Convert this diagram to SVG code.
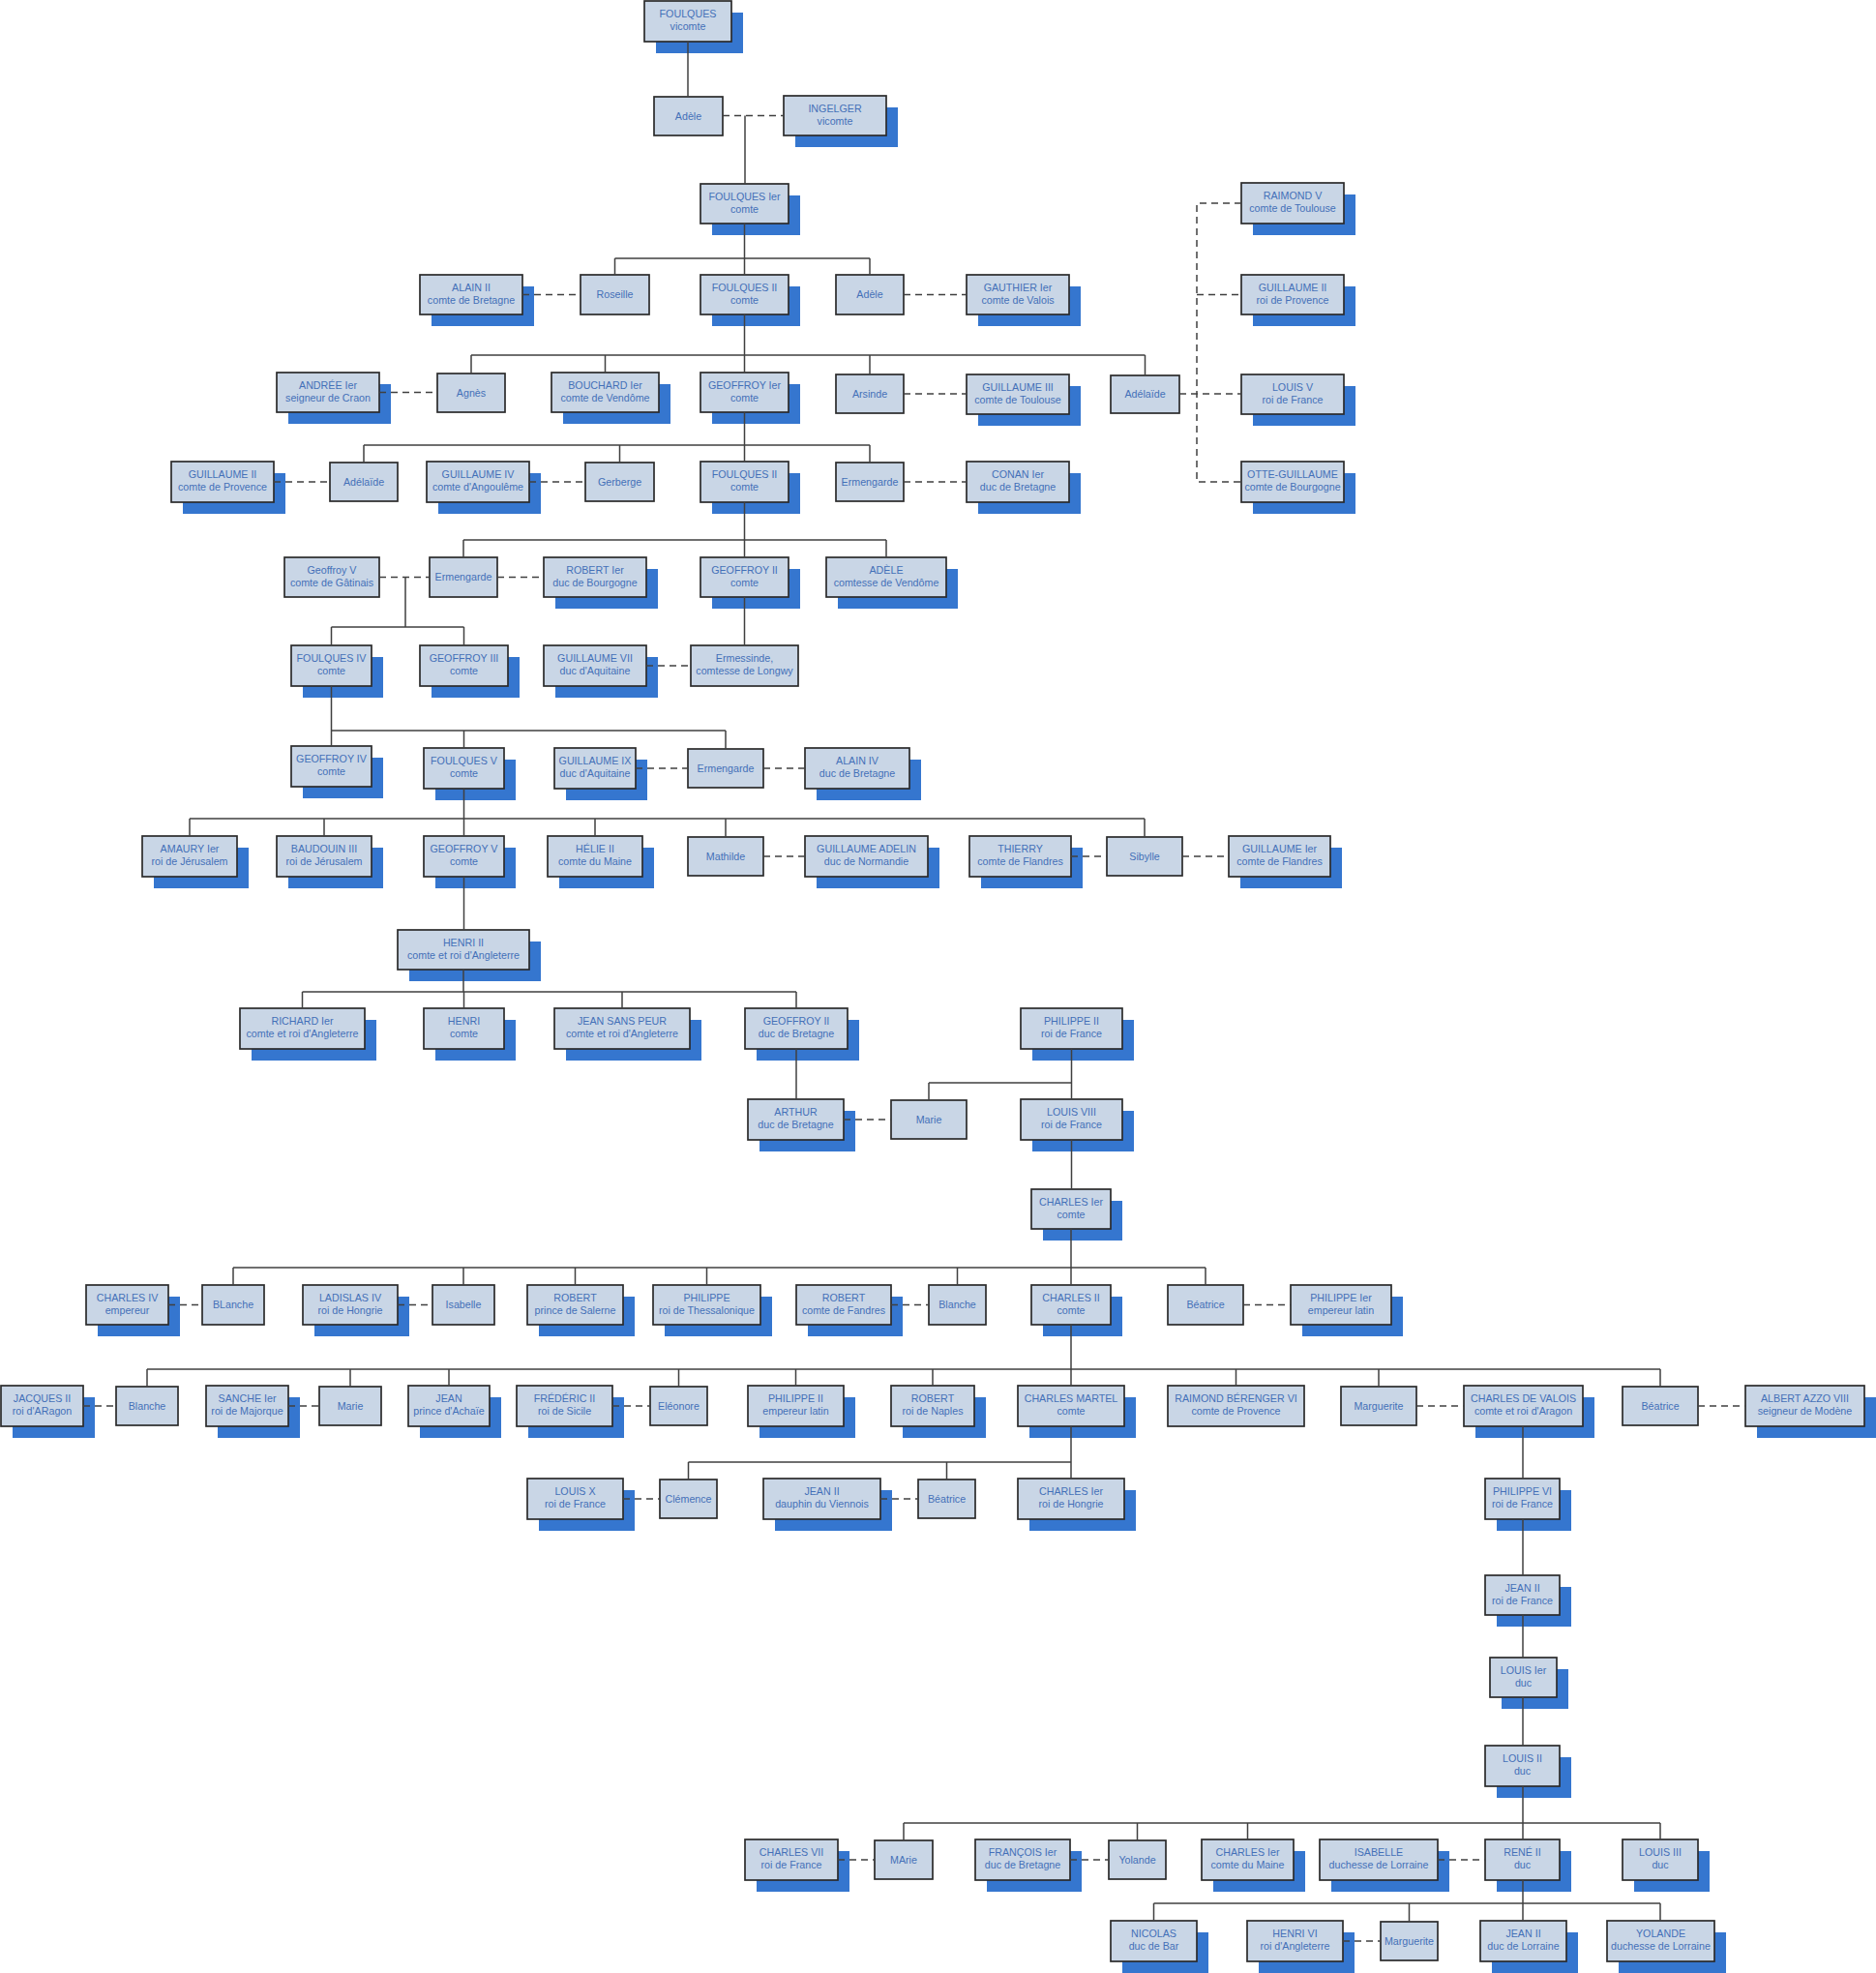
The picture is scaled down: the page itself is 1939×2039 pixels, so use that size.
<svg xmlns="http://www.w3.org/2000/svg" width="1939" height="2039" viewBox="0 0 1939 2039">
<style>
.s{fill:#3576CF}
.b{fill:#C9D6E6;stroke:#2B2B2B;stroke-width:1.7}
.t{font-family:"Liberation Sans",Arial,sans-serif;font-size:10.7px;fill:#4470B8;text-anchor:middle}
.c{fill:none;stroke:#404040;stroke-width:1.5}
.d{fill:none;stroke:#404040;stroke-width:1.5;stroke-dasharray:7,5}
</style>
<rect x="0" y="0" width="1939" height="2039" fill="#FFFFFF"/>
<g id="nodes">
<g id="n1"><rect class="s" x="678" y="13" width="90" height="42"/><rect class="b" x="666" y="1" width="90" height="42"/><text class="t" x="711" y="18">FOULQUES</text><text class="t" x="711" y="31">vicomte</text></g>
<g id="n2"><rect class="b" x="676" y="100" width="71" height="40"/><text class="t" x="711.5" y="123.5">Adèle</text></g>
<g id="n3"><rect class="s" x="822" y="111" width="106" height="41"/><rect class="b" x="810" y="99" width="106" height="41"/><text class="t" x="863" y="115.5">INGELGER</text><text class="t" x="863" y="128.5">vicomte</text></g>
<g id="n4"><rect class="s" x="736" y="202" width="91" height="41"/><rect class="b" x="724" y="190" width="91" height="41"/><text class="t" x="769.5" y="206.5">FOULQUES Ier</text><text class="t" x="769.5" y="219.5">comte</text></g>
<g id="n5"><rect class="s" x="446" y="296" width="106" height="41"/><rect class="b" x="434" y="284" width="106" height="41"/><text class="t" x="487" y="300.5">ALAIN II</text><text class="t" x="487" y="313.5">comte de Bretagne</text></g>
<g id="n6"><rect class="b" x="600" y="284" width="71" height="41"/><text class="t" x="635.5" y="308">Roseille</text></g>
<g id="n7"><rect class="s" x="736" y="296" width="91" height="41"/><rect class="b" x="724" y="284" width="91" height="41"/><text class="t" x="769.5" y="300.5">FOULQUES II</text><text class="t" x="769.5" y="313.5">comte</text></g>
<g id="n8"><rect class="b" x="864" y="284" width="70" height="41"/><text class="t" x="899" y="308">Adèle</text></g>
<g id="n9"><rect class="s" x="1011" y="296" width="106" height="41"/><rect class="b" x="999" y="284" width="106" height="41"/><text class="t" x="1052" y="300.5">GAUTHIER Ier</text><text class="t" x="1052" y="313.5">comte de Valois</text></g>
<g id="n10"><rect class="s" x="1295" y="201" width="106" height="42"/><rect class="b" x="1283" y="189" width="106" height="42"/><text class="t" x="1336" y="206">RAIMOND V</text><text class="t" x="1336" y="219">comte de Toulouse</text></g>
<g id="n11"><rect class="s" x="1295" y="296" width="106" height="41"/><rect class="b" x="1283" y="284" width="106" height="41"/><text class="t" x="1336" y="300.5">GUILLAUME II</text><text class="t" x="1336" y="313.5">roi de Provence</text></g>
<g id="n12"><rect class="s" x="298" y="397" width="106" height="41"/><rect class="b" x="286" y="385" width="106" height="41"/><text class="t" x="339" y="401.5">ANDRÉE Ier</text><text class="t" x="339" y="414.5">seigneur de Craon</text></g>
<g id="n13"><rect class="b" x="452" y="386" width="70" height="40"/><text class="t" x="487" y="409.5">Agnès</text></g>
<g id="n14"><rect class="s" x="582" y="397" width="111" height="41"/><rect class="b" x="570" y="385" width="111" height="41"/><text class="t" x="625.5" y="401.5">BOUCHARD Ier</text><text class="t" x="625.5" y="414.5">comte de Vendôme</text></g>
<g id="n15"><rect class="s" x="736" y="397" width="91" height="41"/><rect class="b" x="724" y="385" width="91" height="41"/><text class="t" x="769.5" y="401.5">GEOFFROY Ier</text><text class="t" x="769.5" y="414.5">comte</text></g>
<g id="n16"><rect class="b" x="864" y="387" width="70" height="40"/><text class="t" x="899" y="410.5">Arsinde</text></g>
<g id="n17"><rect class="s" x="1011" y="399" width="106" height="41"/><rect class="b" x="999" y="387" width="106" height="41"/><text class="t" x="1052" y="403.5">GUILLAUME III</text><text class="t" x="1052" y="416.5">comte de Toulouse</text></g>
<g id="n18"><rect class="b" x="1148" y="388" width="71" height="39"/><text class="t" x="1183.5" y="411">Adélaïde</text></g>
<g id="n19"><rect class="s" x="1295" y="399" width="106" height="41"/><rect class="b" x="1283" y="387" width="106" height="41"/><text class="t" x="1336" y="403.5">LOUIS V</text><text class="t" x="1336" y="416.5">roi de France</text></g>
<g id="n20"><rect class="s" x="189" y="489" width="106" height="42"/><rect class="b" x="177" y="477" width="106" height="42"/><text class="t" x="230" y="494">GUILLAUME II</text><text class="t" x="230" y="507">comte de Provence</text></g>
<g id="n21"><rect class="b" x="341" y="478" width="70" height="40"/><text class="t" x="376" y="501.5">Adélaïde</text></g>
<g id="n22"><rect class="s" x="453" y="489" width="106" height="42"/><rect class="b" x="441" y="477" width="106" height="42"/><text class="t" x="494" y="494">GUILLAUME IV</text><text class="t" x="494" y="507">comte d'Angoulême</text></g>
<g id="n23"><rect class="b" x="605" y="478" width="71" height="40"/><text class="t" x="640.5" y="501.5">Gerberge</text></g>
<g id="n24"><rect class="s" x="736" y="489" width="91" height="42"/><rect class="b" x="724" y="477" width="91" height="42"/><text class="t" x="769.5" y="494">FOULQUES II</text><text class="t" x="769.5" y="507">comte</text></g>
<g id="n25"><rect class="b" x="864" y="478" width="70" height="40"/><text class="t" x="899" y="501.5">Ermengarde</text></g>
<g id="n26"><rect class="s" x="1011" y="489" width="106" height="42"/><rect class="b" x="999" y="477" width="106" height="42"/><text class="t" x="1052" y="494">CONAN Ier</text><text class="t" x="1052" y="507">duc de Bretagne</text></g>
<g id="n27"><rect class="s" x="1295" y="489" width="106" height="42"/><rect class="b" x="1283" y="477" width="106" height="42"/><text class="t" x="1336" y="494">OTTE-GUILLAUME</text><text class="t" x="1336" y="507">comte de Bourgogne</text></g>
<g id="n28"><rect class="b" x="294" y="576" width="98" height="41"/><text class="t" x="343" y="592.5">Geoffroy V</text><text class="t" x="343" y="605.5">comte de Gâtinais</text></g>
<g id="n29"><rect class="b" x="444" y="576" width="70" height="41"/><text class="t" x="479" y="600">Ermengarde</text></g>
<g id="n30"><rect class="s" x="574" y="588" width="106" height="41"/><rect class="b" x="562" y="576" width="106" height="41"/><text class="t" x="615" y="592.5">ROBERT Ier</text><text class="t" x="615" y="605.5">duc de Bourgogne</text></g>
<g id="n31"><rect class="s" x="736" y="588" width="91" height="41"/><rect class="b" x="724" y="576" width="91" height="41"/><text class="t" x="769.5" y="592.5">GEOFFROY II</text><text class="t" x="769.5" y="605.5">comte</text></g>
<g id="n32"><rect class="s" x="866" y="588" width="124" height="41"/><rect class="b" x="854" y="576" width="124" height="41"/><text class="t" x="916" y="592.5">ADÈLE</text><text class="t" x="916" y="605.5">comtesse de Vendôme</text></g>
<g id="n33"><rect class="s" x="313" y="679" width="83" height="42"/><rect class="b" x="301" y="667" width="83" height="42"/><text class="t" x="342.5" y="684">FOULQUES IV</text><text class="t" x="342.5" y="697">comte</text></g>
<g id="n34"><rect class="s" x="446" y="679" width="91" height="42"/><rect class="b" x="434" y="667" width="91" height="42"/><text class="t" x="479.5" y="684">GEOFFROY III</text><text class="t" x="479.5" y="697">comte</text></g>
<g id="n35"><rect class="s" x="574" y="679" width="106" height="42"/><rect class="b" x="562" y="667" width="106" height="42"/><text class="t" x="615" y="684">GUILLAUME VII</text><text class="t" x="615" y="697">duc d'Aquitaine</text></g>
<g id="n36"><rect class="b" x="714" y="667" width="111" height="42"/><text class="t" x="769.5" y="684">Ermessinde,</text><text class="t" x="769.5" y="697">comtesse de Longwy</text></g>
<g id="n37"><rect class="s" x="313" y="783" width="83" height="42"/><rect class="b" x="301" y="771" width="83" height="42"/><text class="t" x="342.5" y="788">GEOFFROY IV</text><text class="t" x="342.5" y="801">comte</text></g>
<g id="n38"><rect class="s" x="450" y="785" width="83" height="42"/><rect class="b" x="438" y="773" width="83" height="42"/><text class="t" x="479.5" y="790">FOULQUES V</text><text class="t" x="479.5" y="803">comte</text></g>
<g id="n39"><rect class="s" x="585" y="785" width="84" height="42"/><rect class="b" x="573" y="773" width="84" height="42"/><text class="t" x="615" y="790">GUILLAUME IX</text><text class="t" x="615" y="803">duc d'Aquitaine</text></g>
<g id="n40"><rect class="b" x="711" y="774" width="78" height="40"/><text class="t" x="750" y="797.5">Ermengarde</text></g>
<g id="n41"><rect class="s" x="844" y="785" width="108" height="42"/><rect class="b" x="832" y="773" width="108" height="42"/><text class="t" x="886" y="790">ALAIN IV</text><text class="t" x="886" y="803">duc de Bretagne</text></g>
<g id="n42"><rect class="s" x="159" y="876" width="98" height="42"/><rect class="b" x="147" y="864" width="98" height="42"/><text class="t" x="196" y="881">AMAURY Ier</text><text class="t" x="196" y="894">roi de Jérusalem</text></g>
<g id="n43"><rect class="s" x="298" y="876" width="98" height="42"/><rect class="b" x="286" y="864" width="98" height="42"/><text class="t" x="335" y="881">BAUDOUIN III</text><text class="t" x="335" y="894">roi de Jérusalem</text></g>
<g id="n44"><rect class="s" x="450" y="876" width="83" height="42"/><rect class="b" x="438" y="864" width="83" height="42"/><text class="t" x="479.5" y="881">GEOFFROY V</text><text class="t" x="479.5" y="894">comte</text></g>
<g id="n45"><rect class="s" x="578" y="876" width="98" height="42"/><rect class="b" x="566" y="864" width="98" height="42"/><text class="t" x="615" y="881">HÉLIE II</text><text class="t" x="615" y="894">comte du Maine</text></g>
<g id="n46"><rect class="b" x="711" y="865" width="78" height="40"/><text class="t" x="750" y="888.5">Mathilde</text></g>
<g id="n47"><rect class="s" x="844" y="876" width="127" height="42"/><rect class="b" x="832" y="864" width="127" height="42"/><text class="t" x="895.5" y="881">GUILLAUME ADELIN</text><text class="t" x="895.5" y="894">duc de Normandie</text></g>
<g id="n48"><rect class="s" x="1014" y="876" width="105" height="42"/><rect class="b" x="1002" y="864" width="105" height="42"/><text class="t" x="1054.5" y="881">THIERRY</text><text class="t" x="1054.5" y="894">comte de Flandres</text></g>
<g id="n49"><rect class="b" x="1144" y="865" width="78" height="40"/><text class="t" x="1183" y="888.5">Sibylle</text></g>
<g id="n50"><rect class="s" x="1282" y="876" width="105" height="42"/><rect class="b" x="1270" y="864" width="105" height="42"/><text class="t" x="1322.5" y="881">GUILLAUME Ier</text><text class="t" x="1322.5" y="894">comte de Flandres</text></g>
<g id="n51"><rect class="s" x="423" y="973" width="136" height="41"/><rect class="b" x="411" y="961" width="136" height="41"/><text class="t" x="479" y="977.5">HENRI II</text><text class="t" x="479" y="990.5">comte et roi d'Angleterre</text></g>
<g id="n52"><rect class="s" x="260" y="1054" width="129" height="42"/><rect class="b" x="248" y="1042" width="129" height="42"/><text class="t" x="312.5" y="1059">RICHARD Ier</text><text class="t" x="312.5" y="1072">comte et roi d'Angleterre</text></g>
<g id="n53"><rect class="s" x="450" y="1054" width="83" height="42"/><rect class="b" x="438" y="1042" width="83" height="42"/><text class="t" x="479.5" y="1059">HENRI</text><text class="t" x="479.5" y="1072">comte</text></g>
<g id="n54"><rect class="s" x="585" y="1054" width="140" height="42"/><rect class="b" x="573" y="1042" width="140" height="42"/><text class="t" x="643" y="1059">JEAN SANS PEUR</text><text class="t" x="643" y="1072">comte et roi d'Angleterre</text></g>
<g id="n55"><rect class="s" x="782" y="1054" width="106" height="42"/><rect class="b" x="770" y="1042" width="106" height="42"/><text class="t" x="823" y="1059">GEOFFROY II</text><text class="t" x="823" y="1072">duc de Bretagne</text></g>
<g id="n56"><rect class="s" x="1067" y="1054" width="105" height="42"/><rect class="b" x="1055" y="1042" width="105" height="42"/><text class="t" x="1107.5" y="1059">PHILIPPE II</text><text class="t" x="1107.5" y="1072">roi de France</text></g>
<g id="n57"><rect class="s" x="785" y="1148" width="99" height="42"/><rect class="b" x="773" y="1136" width="99" height="42"/><text class="t" x="822.5" y="1153">ARTHUR</text><text class="t" x="822.5" y="1166">duc de Bretagne</text></g>
<g id="n58"><rect class="b" x="921" y="1137" width="78" height="40"/><text class="t" x="960" y="1160.5">Marie</text></g>
<g id="n59"><rect class="s" x="1067" y="1148" width="105" height="42"/><rect class="b" x="1055" y="1136" width="105" height="42"/><text class="t" x="1107.5" y="1153">LOUIS VIII</text><text class="t" x="1107.5" y="1166">roi de France</text></g>
<g id="n60"><rect class="s" x="1078" y="1241" width="82" height="41"/><rect class="b" x="1066" y="1229" width="82" height="41"/><text class="t" x="1107" y="1245.5">CHARLES Ier</text><text class="t" x="1107" y="1258.5">comte</text></g>
<g id="n61"><rect class="s" x="101" y="1340" width="85" height="41"/><rect class="b" x="89" y="1328" width="85" height="41"/><text class="t" x="131.5" y="1344.5">CHARLES IV</text><text class="t" x="131.5" y="1357.5">empereur</text></g>
<g id="n62"><rect class="b" x="209" y="1328" width="64" height="41"/><text class="t" x="241" y="1352">BLanche</text></g>
<g id="n63"><rect class="s" x="325" y="1340" width="98" height="41"/><rect class="b" x="313" y="1328" width="98" height="41"/><text class="t" x="362" y="1344.5">LADISLAS IV</text><text class="t" x="362" y="1357.5">roi de Hongrie</text></g>
<g id="n64"><rect class="b" x="447" y="1328" width="64" height="41"/><text class="t" x="479" y="1352">Isabelle</text></g>
<g id="n65"><rect class="s" x="557" y="1340" width="99" height="41"/><rect class="b" x="545" y="1328" width="99" height="41"/><text class="t" x="594.5" y="1344.5">ROBERT</text><text class="t" x="594.5" y="1357.5">prince de Salerne</text></g>
<g id="n66"><rect class="s" x="687" y="1340" width="111" height="41"/><rect class="b" x="675" y="1328" width="111" height="41"/><text class="t" x="730.5" y="1344.5">PHILIPPE</text><text class="t" x="730.5" y="1357.5">roi de Thessalonique</text></g>
<g id="n67"><rect class="s" x="835" y="1340" width="98" height="41"/><rect class="b" x="823" y="1328" width="98" height="41"/><text class="t" x="872" y="1344.5">ROBERT</text><text class="t" x="872" y="1357.5">comte de Fandres</text></g>
<g id="n68"><rect class="b" x="960" y="1328" width="59" height="41"/><text class="t" x="989.5" y="1352">Blanche</text></g>
<g id="n69"><rect class="s" x="1078" y="1340" width="82" height="41"/><rect class="b" x="1066" y="1328" width="82" height="41"/><text class="t" x="1107" y="1344.5">CHARLES II</text><text class="t" x="1107" y="1357.5">comte</text></g>
<g id="n70"><rect class="b" x="1207" y="1328" width="78" height="41"/><text class="t" x="1246" y="1352">Béatrice</text></g>
<g id="n71"><rect class="s" x="1346" y="1340" width="104" height="41"/><rect class="b" x="1334" y="1328" width="104" height="41"/><text class="t" x="1386" y="1344.5">PHILIPPE Ier</text><text class="t" x="1386" y="1357.5">empereur latin</text></g>
<g id="n72"><rect class="s" x="13" y="1444" width="85" height="42"/><rect class="b" x="1" y="1432" width="85" height="42"/><text class="t" x="43.5" y="1449">JACQUES II</text><text class="t" x="43.5" y="1462">roi d'ARagon</text></g>
<g id="n73"><rect class="b" x="120" y="1433" width="64" height="40"/><text class="t" x="152" y="1456.5">Blanche</text></g>
<g id="n74"><rect class="s" x="225" y="1444" width="85" height="42"/><rect class="b" x="213" y="1432" width="85" height="42"/><text class="t" x="255.5" y="1449">SANCHE Ier</text><text class="t" x="255.5" y="1462">roi de Majorque</text></g>
<g id="n75"><rect class="b" x="330" y="1433" width="64" height="40"/><text class="t" x="362" y="1456.5">Marie</text></g>
<g id="n76"><rect class="s" x="434" y="1444" width="84" height="42"/><rect class="b" x="422" y="1432" width="84" height="42"/><text class="t" x="464" y="1449">JEAN</text><text class="t" x="464" y="1462">prince d'Achaïe</text></g>
<g id="n77"><rect class="s" x="546" y="1444" width="99" height="42"/><rect class="b" x="534" y="1432" width="99" height="42"/><text class="t" x="583.5" y="1449">FRÉDÉRIC II</text><text class="t" x="583.5" y="1462">roi de Sicile</text></g>
<g id="n78"><rect class="b" x="672" y="1433" width="59" height="40"/><text class="t" x="701.5" y="1456.5">Eléonore</text></g>
<g id="n79"><rect class="s" x="785" y="1444" width="99" height="42"/><rect class="b" x="773" y="1432" width="99" height="42"/><text class="t" x="822.5" y="1449">PHILIPPE II</text><text class="t" x="822.5" y="1462">empereur latin</text></g>
<g id="n80"><rect class="s" x="933" y="1444" width="86" height="42"/><rect class="b" x="921" y="1432" width="86" height="42"/><text class="t" x="964" y="1449">ROBERT</text><text class="t" x="964" y="1462">roi de Naples</text></g>
<g id="n81"><rect class="s" x="1064" y="1444" width="110" height="42"/><rect class="b" x="1052" y="1432" width="110" height="42"/><text class="t" x="1107" y="1449">CHARLES MARTEL</text><text class="t" x="1107" y="1462">comte</text></g>
<g id="n82"><rect class="b" x="1207" y="1432" width="141" height="42"/><text class="t" x="1277.5" y="1449">RAIMOND BÉRENGER VI</text><text class="t" x="1277.5" y="1462">comte de Provence</text></g>
<g id="n83"><rect class="b" x="1386" y="1433" width="78" height="40"/><text class="t" x="1425" y="1456.5">Marguerite</text></g>
<g id="n84"><rect class="s" x="1525" y="1444" width="123" height="42"/><rect class="b" x="1513" y="1432" width="123" height="42"/><text class="t" x="1574.5" y="1449">CHARLES DE VALOIS</text><text class="t" x="1574.5" y="1462">comte et roi d'Aragon</text></g>
<g id="n85"><rect class="b" x="1677" y="1433" width="78" height="40"/><text class="t" x="1716" y="1456.5">Béatrice</text></g>
<g id="n86"><rect class="s" x="1816" y="1444" width="123" height="42"/><rect class="b" x="1804" y="1432" width="123" height="42"/><text class="t" x="1865.5" y="1449">ALBERT AZZO VIII</text><text class="t" x="1865.5" y="1462">seigneur de Modène</text></g>
<g id="n87"><rect class="s" x="557" y="1540" width="99" height="42"/><rect class="b" x="545" y="1528" width="99" height="42"/><text class="t" x="594.5" y="1545">LOUIS X</text><text class="t" x="594.5" y="1558">roi de France</text></g>
<g id="n88"><rect class="b" x="682" y="1529" width="59" height="40"/><text class="t" x="711.5" y="1552.5">Clémence</text></g>
<g id="n89"><rect class="s" x="801" y="1540" width="121" height="42"/><rect class="b" x="789" y="1528" width="121" height="42"/><text class="t" x="849.5" y="1545">JEAN II</text><text class="t" x="849.5" y="1558">dauphin du Viennois</text></g>
<g id="n90"><rect class="b" x="949" y="1529" width="59" height="40"/><text class="t" x="978.5" y="1552.5">Béatrice</text></g>
<g id="n91"><rect class="s" x="1064" y="1540" width="110" height="42"/><rect class="b" x="1052" y="1528" width="110" height="42"/><text class="t" x="1107" y="1545">CHARLES Ier</text><text class="t" x="1107" y="1558">roi de Hongrie</text></g>
<g id="n92"><rect class="s" x="1547" y="1540" width="77" height="42"/><rect class="b" x="1535" y="1528" width="77" height="42"/><text class="t" x="1573.5" y="1545">PHILIPPE VI</text><text class="t" x="1573.5" y="1558">roi de France</text></g>
<g id="n93"><rect class="s" x="1547" y="1640" width="77" height="41"/><rect class="b" x="1535" y="1628" width="77" height="41"/><text class="t" x="1573.5" y="1644.5">JEAN II</text><text class="t" x="1573.5" y="1657.5">roi de France</text></g>
<g id="n94"><rect class="s" x="1552" y="1725" width="69" height="41"/><rect class="b" x="1540" y="1713" width="69" height="41"/><text class="t" x="1574.5" y="1729.5">LOUIS Ier</text><text class="t" x="1574.5" y="1742.5">duc</text></g>
<g id="n95"><rect class="s" x="1547" y="1816" width="77" height="42"/><rect class="b" x="1535" y="1804" width="77" height="42"/><text class="t" x="1573.5" y="1821">LOUIS II</text><text class="t" x="1573.5" y="1834">duc</text></g>
<g id="n96"><rect class="s" x="782" y="1913" width="96" height="42"/><rect class="b" x="770" y="1901" width="96" height="42"/><text class="t" x="818" y="1918">CHARLES VII</text><text class="t" x="818" y="1931">roi de France</text></g>
<g id="n97"><rect class="b" x="904" y="1902" width="60" height="40"/><text class="t" x="934" y="1925.5">MArie</text></g>
<g id="n98"><rect class="s" x="1020" y="1913" width="98" height="42"/><rect class="b" x="1008" y="1901" width="98" height="42"/><text class="t" x="1057" y="1918">FRANÇOIS Ier</text><text class="t" x="1057" y="1931">duc de Bretagne</text></g>
<g id="n99"><rect class="b" x="1146" y="1902" width="59" height="40"/><text class="t" x="1175.5" y="1925.5">Yolande</text></g>
<g id="n100"><rect class="s" x="1254" y="1913" width="95" height="42"/><rect class="b" x="1242" y="1901" width="95" height="42"/><text class="t" x="1289.5" y="1918">CHARLES Ier</text><text class="t" x="1289.5" y="1931">comte du Maine</text></g>
<g id="n101"><rect class="s" x="1376" y="1913" width="122" height="42"/><rect class="b" x="1364" y="1901" width="122" height="42"/><text class="t" x="1425" y="1918">ISABELLE</text><text class="t" x="1425" y="1931">duchesse de Lorraine</text></g>
<g id="n102"><rect class="s" x="1547" y="1913" width="77" height="42"/><rect class="b" x="1535" y="1901" width="77" height="42"/><text class="t" x="1573.5" y="1918">RENÉ II</text><text class="t" x="1573.5" y="1931">duc</text></g>
<g id="n103"><rect class="s" x="1689" y="1913" width="78" height="42"/><rect class="b" x="1677" y="1901" width="78" height="42"/><text class="t" x="1716" y="1918">LOUIS III</text><text class="t" x="1716" y="1931">duc</text></g>
<g id="n104"><rect class="s" x="1160" y="1997" width="89" height="42"/><rect class="b" x="1148" y="1985" width="89" height="42"/><text class="t" x="1192.5" y="2002">NICOLAS</text><text class="t" x="1192.5" y="2015">duc de Bar</text></g>
<g id="n105"><rect class="s" x="1301" y="1997" width="99" height="42"/><rect class="b" x="1289" y="1985" width="99" height="42"/><text class="t" x="1338.5" y="2002">HENRI VI</text><text class="t" x="1338.5" y="2015">roi d'Angleterre</text></g>
<g id="n106"><rect class="b" x="1427" y="1986" width="59" height="40"/><text class="t" x="1456.5" y="2009.5">Marguerite</text></g>
<g id="n107"><rect class="s" x="1542" y="1997" width="89" height="42"/><rect class="b" x="1530" y="1985" width="89" height="42"/><text class="t" x="1574.5" y="2002">JEAN II</text><text class="t" x="1574.5" y="2015">duc de Lorraine</text></g>
<g id="n108"><rect class="s" x="1673" y="1997" width="111" height="42"/><rect class="b" x="1661" y="1985" width="111" height="42"/><text class="t" x="1716.5" y="2002">YOLANDE</text><text class="t" x="1716.5" y="2015">duchesse de Lorraine</text></g>
</g>
<g id="connectors">
<path class="c" d="M711,43V100"/>
<path class="c" d="M770,119.5V190"/>
<path class="c" d="M769.5,231V267M635.5,267H899M635.5,267V284M769.5,267V284M899,267V284"/>
<path class="c" d="M769.5,325V367M487,367H1183.5M487,367V386M625.5,367V385M769.5,367V385M899,367V387M1183.5,367V388"/>
<path class="c" d="M769.5,426V460M376,460H899M376,460V478M640.5,460V478M769.5,460V477M899,460V478"/>
<path class="c" d="M769.5,519V558M479,558H916M479,558V576M769.5,558V576M916,558V576"/>
<path class="c" d="M769.5,617V667"/>
<path class="c" d="M419,596.5V648M342.5,648H479.5M342.5,648V667M479.5,648V667"/>
<path class="c" d="M342.5,709V755M342.5,755H750M342.5,755V771M479.5,755V773M750,755V774"/>
<path class="c" d="M479.5,815V846M196,846H1183M196,846V864M335,846V864M479.5,846V864M615,846V864M750,846V865M1183,846V865"/>
<path class="c" d="M479.5,906V961"/>
<path class="c" d="M479,1002V1025M312.5,1025H823M312.5,1025V1042M479.5,1025V1042M643,1025V1042M823,1025V1042"/>
<path class="c" d="M823,1084V1136"/>
<path class="c" d="M1107.5,1084V1119M960,1119H1107.5M960,1119V1137M1107.5,1119V1136"/>
<path class="c" d="M1107.5,1178V1229"/>
<path class="c" d="M1107,1270V1310M241,1310H1246M241,1310V1328M479,1310V1328M594.5,1310V1328M730.5,1310V1328M989.5,1310V1328M1107,1310V1328M1246,1310V1328"/>
<path class="c" d="M1107,1369V1415M152,1415H1716M152,1415V1433M362,1415V1433M464,1415V1432M701.5,1415V1433M822.5,1415V1432M964,1415V1432M1107,1415V1432M1277.5,1415V1432M1425,1415V1433M1716,1415V1433"/>
<path class="c" d="M1107,1474V1511M711.5,1511H1107M711.5,1511V1529M978.5,1511V1529M1107,1511V1528"/>
<path class="c" d="M1574,1474V1528M1574,1570V1628M1574,1669V1713M1574,1754V1804"/>
<path class="c" d="M1574,1846V1884M934,1884H1716M934,1884V1902M1175.5,1884V1902M1289.5,1884V1901M1574,1884V1901M1716,1884V1901"/>
<path class="c" d="M1574,1943V1967M1192.5,1967H1716M1192.5,1967V1985M1456.5,1967V1986M1574,1967V1985M1716,1967V1985"/>
<path class="d" d="M747,119.5H810"/>
<path class="d" d="M540,304.5H600"/>
<path class="d" d="M934,304.5H999"/>
<path class="d" d="M392,405.5H452"/>
<path class="d" d="M934,407H999"/>
<path class="d" d="M1219,407H1283"/>
<path class="d" d="M1283,210H1237V498H1283"/>
<path class="d" d="M1237,304.5H1283"/>
<path class="d" d="M283,498H341"/>
<path class="d" d="M547,498H605"/>
<path class="d" d="M934,498H999"/>
<path class="d" d="M392,596.5H444"/>
<path class="d" d="M514,596.5H562"/>
<path class="d" d="M668,688H714"/>
<path class="d" d="M657,794H711"/>
<path class="d" d="M789,794H832"/>
<path class="d" d="M789,885H832"/>
<path class="d" d="M1107,885H1144"/>
<path class="d" d="M1222,885H1270"/>
<path class="d" d="M872,1157H921"/>
<path class="d" d="M174,1348.5H209"/>
<path class="d" d="M411,1348.5H447"/>
<path class="d" d="M921,1348.5H960"/>
<path class="d" d="M1285,1348.5H1334"/>
<path class="d" d="M86,1453H120"/>
<path class="d" d="M298,1453H330"/>
<path class="d" d="M633,1453H672"/>
<path class="d" d="M1464,1453H1513"/>
<path class="d" d="M1755,1453H1804"/>
<path class="d" d="M644,1549H682"/>
<path class="d" d="M910,1549H949"/>
<path class="d" d="M866,1922H904"/>
<path class="d" d="M1106,1922H1146"/>
<path class="d" d="M1486,1922H1535"/>
<path class="d" d="M1388,2006H1427"/>
</g>
</svg>
